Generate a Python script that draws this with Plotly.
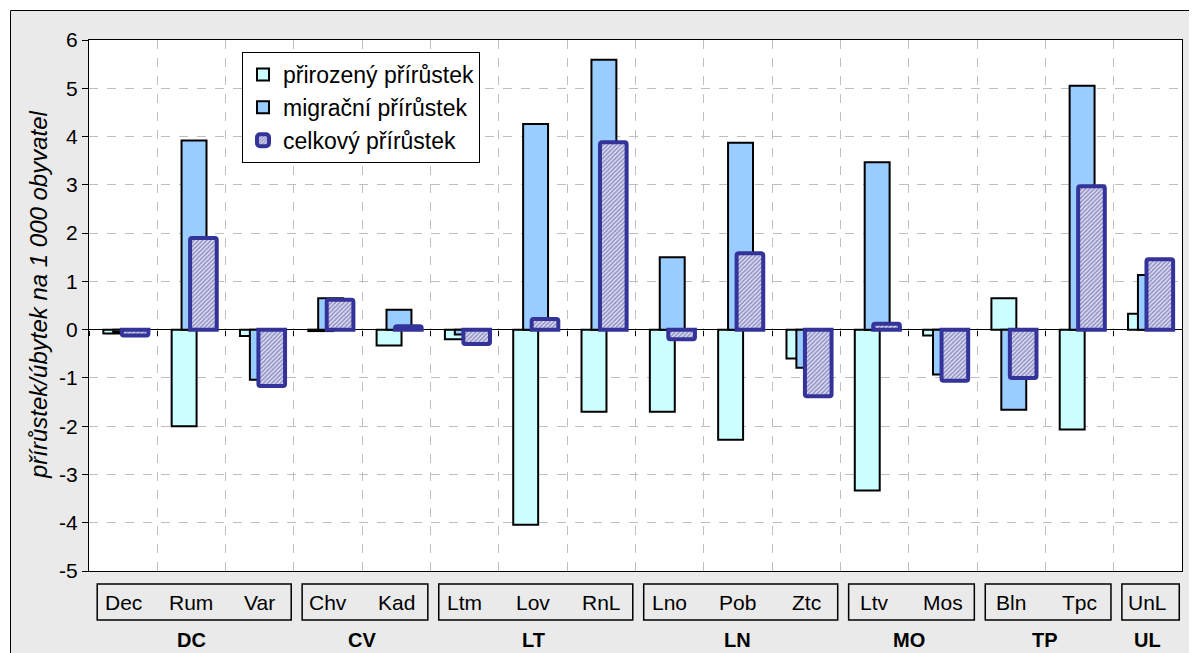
import plotly.graph_objects as go

# ---- data ----
categories = ["Dec", "Rum", "Var", "Chv", "Kad", "Ltm", "Lov", "RnL",
              "Lno", "Pob", "Ztc", "Ltv", "Mos", "Bln", "Tpc", "UnL"]
groups = ["DC", "DC", "DC", "CV", "CV", "LT", "LT", "LT",
          "LN", "LN", "LN", "MO", "MO", "TP", "TP", "UL"]
natural = [-0.08, -2.00, -0.13, -0.03, -0.33, -0.20, -4.04, -1.70,
           -1.70, -2.28, -0.60, -3.33, -0.12, 0.65, -2.07, 0.33]
migration = [-0.05, 3.92, -1.04, 0.65, 0.41, -0.10, 4.26, 5.59,
             1.50, 3.87, -0.79, 3.47, -0.93, -1.66, 5.05, 1.13]
total = [-0.12, 1.90, -1.17, 0.62, 0.07, -0.30, 0.22, 3.88,
         -0.20, 1.58, -1.38, 0.12, -1.06, -1.00, 2.97, 1.46]
series_names = ["přirozený přírůstek", "migrační přírůstek", "celkový přírůstek"]
y_ticks = [6, 5, 4, 3, 2, 1, 0, -1, -2, -3, -4, -5]
y_ticktext = ["6", "5", "4", "3", "2", "1", "0", "-1", "-2", "-3", "-4", "-5"]
y_title = "přírůstek/úbytek na 1 000 obyvatel"

FONT = "Liberation Sans, Arial, sans-serif"
W, H = 1197, 653
OFF = 8  # page body margin
# plot area in screen pixels: x 89..1182, y 40..571
ML, MT = 89 - OFF, 40 - OFF
MR, MB = W - (1182 - OFF), H - (571 - OFF)

fig = go.Figure()
fig.add_trace(go.Bar(
    x=categories, y=natural, name=series_names[0], legendgroup="a",
    offset=-0.29, width=0.365,
    marker=dict(color="#CCFFFF", line=dict(color="black", width=2)),
))
fig.add_trace(go.Bar(
    x=categories, y=migration, name=series_names[1], legendgroup="b",
    offset=-0.145, width=0.365,
    marker=dict(color="#99CCFF", line=dict(color="black", width=2)),
))
fig.add_trace(go.Bar(
    x=categories, y=total, name=series_names[2], legendgroup="c",
    offset=-0.02, width=0.39,
    marker=dict(color="white", cornerradius=2,
                line=dict(color="#333399", width=4),
                pattern=dict(shape="/", fgcolor="#333399", bgcolor="white",
                             size=3, solidity=0.72)),
))
# helper trace so the zero-line tick axis (x2) gets drawn; no visible marks
fig.add_trace(go.Scatter(
    x=categories, y=[0] * len(categories), xaxis="x2", mode="lines",
    line=dict(color="rgba(0,0,0,0)", width=0), showlegend=False, hoverinfo="skip",
))

# screen pixel -> paper helpers (decoration only)
pw = W - ML - MR
ph = H - MT - MB
def px(p):
    return (p - OFF - ML) / pw
def py(p):
    return (H - MB - (p - OFF)) / ph

shapes = []
annotations = []
# outer frame: white strips top/left + black border
shapes.append(dict(type="rect", xref="paper", yref="paper", x0=px(0), x1=px(W + 20),
                   y0=py(10.5), y1=py(-5), fillcolor="white", line_width=0, layer="below"))
shapes.append(dict(type="rect", xref="paper", yref="paper", x0=px(-5), x1=px(10.5),
                   y0=py(H + 20), y1=py(-5), fillcolor="white", line_width=0, layer="below"))
shapes.append(dict(type="line", xref="paper", yref="paper", x0=px(10.5), x1=px(W + 20),
                   y0=py(10.5), y1=py(10.5), line=dict(color="black", width=1)))
shapes.append(dict(type="line", xref="paper", yref="paper", x0=px(10.5), x1=px(10.5),
                   y0=py(10.5), y1=py(H + 20), line=dict(color="black", width=1)))

# y-axis title
annotations.append(dict(x=px(38), xref="paper", y=py(295), yref="paper", text=y_title,
                        textangle=-90, showarrow=False, xanchor="center", yanchor="middle",
                        font=dict(family=FONT, size=24, color="black", style="italic")))

# category labels
for c in categories:
    annotations.append(dict(x=c, xref="x", y=py(602), yref="paper", text=c,
                            showarrow=False, font=dict(family=FONT, size=21, color="black"),
                            xanchor="center", yanchor="middle"))
# group boxes and labels
seen = []
for g in groups:
    if g not in seen:
        seen.append(g)
for g in seen:
    idx = [i for i, gg in enumerate(groups) if gg == g]
    i0, i1 = idx[0], idx[-1]
    shapes.append(dict(type="rect", xref="x", yref="paper",
                       x0=i0 - 0.38, x1=i1 + 0.46, y0=py(620), y1=py(584),
                       line=dict(color="black", width=1.5), fillcolor="rgba(0,0,0,0)"))
    annotations.append(dict(x=(i0 + i1) / 2, xref="x", y=py(653), yref="paper", text="<b>%s</b>" % g,
                            showarrow=False, font=dict(family=FONT, size=20, color="black"),
                            xanchor="center", yanchor="bottom"))

n = len(categories)
fig.update_layout(
    width=W, height=H,
    margin=dict(l=ML, r=MR, t=MT, b=MB, autoexpand=False),
    paper_bgcolor="#EAEAEA", plot_bgcolor="white",
    barmode="overlay",
    font=dict(family=FONT, size=20, color="black"),
    showlegend=True,
    legend=dict(x=px(242), y=py(52), xanchor="left", yanchor="top",
                bgcolor="white", bordercolor="black", borderwidth=1,
                font=dict(family=FONT, size=23, color="black"),
                tracegroupgap=5, traceorder="normal"),
    shapes=shapes,
    annotations=annotations,
    xaxis=dict(type="category", categoryorder="array", categoryarray=categories,
               range=[-0.5, n - 0.5], automargin=False,
               showticklabels=False, tickson="boundaries", ticks="",
               showgrid=True, gridcolor="#BFBFBF", griddash="dash", gridwidth=1,
               showline=True, linecolor="black", linewidth=1, mirror=True),
    # category-axis tick marks drawn along the zero line
    xaxis2=dict(type="category", categoryorder="array", categoryarray=categories,
                overlaying="x", anchor="free", position=(0 - (-5)) / (6 - (-5)),
                range=[-0.5, n - 0.5], tickson="boundaries",
                ticks="outside", ticklen=5, tickcolor="black", showticklabels=False,
                showgrid=False, zeroline=False, showline=False, automargin=False),
    yaxis=dict(range=[-5, 6], tickvals=y_ticks, ticktext=y_ticktext, automargin=False,
               ticks="outside", ticklen=6,
               tickcolor="black", tickfont=dict(family=FONT, size=21),
               showgrid=True, gridcolor="#BFBFBF", griddash="dash", gridwidth=1,
               zeroline=True, zerolinecolor="black", zerolinewidth=1,
               showline=True, linecolor="black", linewidth=1, mirror=True),
)

fig.write_html("out.html")
